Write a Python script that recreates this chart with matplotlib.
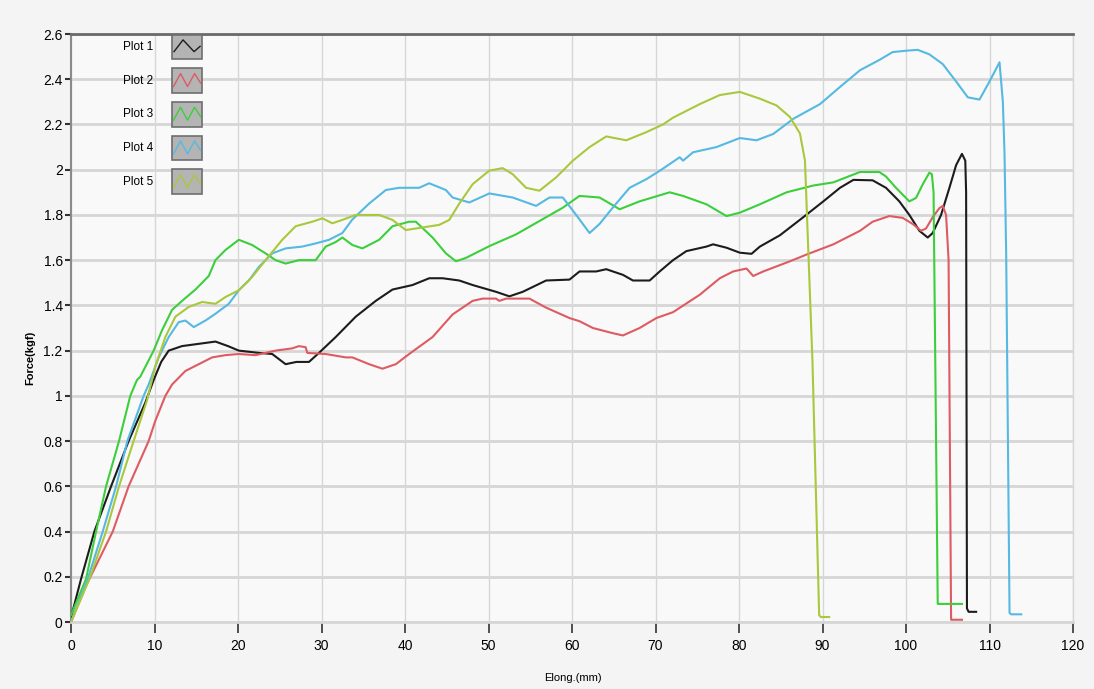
import matplotlib
matplotlib.use("Agg")
import matplotlib.pyplot as plt
from matplotlib.patches import Rectangle
from matplotlib.ticker import MultipleLocator, FuncFormatter

plt.rcParams['font.family'] = ['Liberation Sans Narrow', 'Liberation Sans', 'DejaVu Sans']

# Plot 1 (black)
x1 = [0, 1.2, 2.8, 4.8, 6.9, 8.9, 9.9, 10.8, 11.7, 13.3, 15.3, 17.3, 18.8, 20.1, 22.5, 24.1, 25.7,
      27.0, 28.5, 29.7, 31.7, 34.1, 36.5, 38.5, 40.9, 42.9, 44.5, 46.5, 48.1, 50.9, 52.5, 54.1, 56.9,
      59.7, 60.9, 62.9, 64.1, 66.1, 67.3, 69.3, 70.5, 72.1, 73.7, 76.1, 76.9, 78.5, 80.1, 81.5, 82.5,
      84.9, 87.7, 90.1, 92.1, 93.7, 96.0, 97.6, 99.2, 100.4, 101.6, 102.6, 103.2, 104.2, 105.2, 106.0,
      106.7, 107.1, 107.2, 107.3, 107.5, 108.4]
y1 = [0.02, 0.19, 0.40, 0.60, 0.80, 0.97, 1.07, 1.15, 1.20, 1.22, 1.23, 1.24, 1.22, 1.20, 1.19, 1.185, 1.14,
      1.15, 1.15, 1.19, 1.26, 1.35, 1.42, 1.47, 1.49, 1.52, 1.52, 1.51, 1.49, 1.46, 1.44, 1.46, 1.51,
      1.514, 1.55, 1.55, 1.56, 1.535, 1.51, 1.51, 1.55, 1.60, 1.64, 1.66, 1.67, 1.655, 1.633, 1.628, 1.66,
      1.71, 1.79, 1.86, 1.92, 1.955, 1.953, 1.92, 1.86, 1.80, 1.73, 1.70, 1.72, 1.80, 1.92, 2.02,
      2.07, 2.04, 1.90, 0.06, 0.045, 0.045]

# Plot 2 (red)
x2 = [0, 1.8, 5.0, 6.9, 9.3, 10.1, 11.3, 12.1, 13.7, 15.3, 16.9, 18.5, 20.1, 22.1, 23.3, 24.5, 26.5,
      27.3, 28.1, 28.3, 30.5, 32.9, 33.7, 35.7, 37.3, 38.9, 40.5, 43.3, 45.7, 48.1, 49.3, 50.9, 51.3,
      52.1, 54.9, 56.9, 59.7, 60.9, 62.5, 64.9, 66.1, 68.1, 70.1, 72.1, 75.3, 77.7, 79.3, 80.9, 81.7,
      82.9, 86.1, 88.1, 91.3, 94.5, 96.0, 98.0, 99.6, 100.8, 101.8, 102.4, 103.2, 104.0, 104.4, 104.8,
      105.1, 105.4, 105.6, 106.7]
y2 = [0.0, 0.16, 0.40, 0.60, 0.80, 0.89, 1.00, 1.05, 1.11, 1.14, 1.17, 1.18, 1.185, 1.18, 1.19, 1.20, 1.21,
      1.22, 1.215, 1.19, 1.185, 1.17, 1.17, 1.14, 1.12, 1.14, 1.185, 1.26, 1.36, 1.42, 1.43, 1.43, 1.42,
      1.43, 1.43, 1.39, 1.344, 1.33, 1.30, 1.277, 1.267, 1.30, 1.344, 1.37, 1.447, 1.52, 1.55, 1.563, 1.53,
      1.55, 1.595, 1.625, 1.67, 1.73, 1.77, 1.795, 1.787, 1.76, 1.73, 1.74, 1.79, 1.83, 1.84, 1.80,
      1.60, 0.01, 0.01, 0.01]

# Plot 3 (green)
x3 = [0, 1.8, 3.0, 4.2, 5.75, 7.1, 7.9, 8.3, 9.9, 10.9, 12.1, 13.3, 14.9, 16.5, 17.3, 18.5, 20.1,
      21.7, 23.3, 24.5, 25.7, 27.3, 29.3, 30.5, 31.7, 32.5, 33.7, 34.9, 36.9, 38.5, 40.5, 41.3, 43.3,
      44.9, 46.1, 47.3, 50.1, 53.3, 56.1, 58.9, 60.9, 63.3, 64.1, 65.7, 68.1, 71.7, 73.3, 76.1, 78.5,
      80.1, 82.5, 85.7, 88.9, 91.3, 94.5, 96.8, 97.6, 98.8, 100.4, 101.2, 102.0, 102.8, 103.1, 103.3,
      103.8, 104.0, 106.7]
y3 = [0.03, 0.19, 0.40, 0.60, 0.80, 1.00, 1.07, 1.085, 1.20, 1.29, 1.38, 1.42, 1.47, 1.53, 1.60, 1.645, 1.69,
      1.667, 1.63, 1.60, 1.585, 1.60, 1.60, 1.66, 1.68, 1.70, 1.667, 1.652, 1.69, 1.75, 1.77, 1.77, 1.70,
      1.63, 1.595, 1.61, 1.662, 1.714, 1.773, 1.832, 1.884, 1.877, 1.86, 1.825, 1.86, 1.90, 1.884, 1.847, 1.795,
      1.81, 1.847, 1.90, 1.93, 1.944, 1.99, 1.99, 1.97, 1.92, 1.86, 1.875, 1.935, 1.987, 1.98, 1.90,
      0.08, 0.08, 0.08]

# Plot 4 (blue)
x4 = [0, 2.0, 3.8, 5.4, 6.75, 8.7, 9.3, 10.5, 11.7, 12.9, 13.7, 14.7, 16.1, 17.3, 18.9, 20.1, 21.3,
      22.5, 24.1, 25.7, 27.7, 29.3, 30.9, 32.5, 33.7, 35.7, 37.7, 39.3, 41.7, 42.9, 44.9, 45.7, 47.7,
      50.1, 52.9, 55.7, 57.3, 58.9, 60.5, 62.1, 63.3, 64.9, 66.9, 68.9, 70.5, 72.9, 73.3, 74.5, 77.3,
      80.1, 82.1, 84.1, 86.5, 89.7, 92.1, 94.5, 96.8, 98.4, 100.0, 101.4, 102.8, 104.4, 106.0, 107.4,
      108.8, 110.0, 111.2, 111.6, 111.8, 112.0, 112.4, 112.6, 113.8]
y4 = [0.0, 0.19, 0.40, 0.60, 0.80, 1.00, 1.05, 1.17, 1.26, 1.326, 1.333, 1.304, 1.333, 1.363, 1.407, 1.467, 1.51,
      1.57, 1.63, 1.652, 1.66, 1.674, 1.69, 1.72, 1.78, 1.85, 1.91, 1.92, 1.92, 1.94, 1.91, 1.877, 1.855,
      1.895, 1.877, 1.84, 1.877, 1.877, 1.80, 1.72, 1.76, 1.833, 1.92, 1.958, 1.995, 2.055, 2.04, 2.077, 2.10,
      2.14, 2.13, 2.158, 2.225, 2.29, 2.366, 2.44, 2.485, 2.52, 2.526, 2.53, 2.51, 2.467, 2.39, 2.32,
      2.31, 2.39, 2.475, 2.30, 2.07, 1.62, 0.04, 0.034, 0.034]

# Plot 5 (yellow green)
x5 = [0, 2.2, 4.2, 5.75, 7.5, 9.1, 9.7, 10.1, 11.3, 12.5, 14.1, 15.7, 17.3, 18.5, 20.1, 21.7, 23.3,
      25.3, 26.9, 28.9, 30.1, 31.3, 32.5, 34.1, 36.9, 38.5, 40.1, 41.3, 44.1, 45.3, 46.5, 48.1, 50.1,
      51.7, 52.9, 54.5, 56.1, 58.1, 60.1, 62.1, 64.1, 66.5, 68.9, 70.9, 72.1, 75.3, 77.7, 80.1, 82.5,
      84.5, 86.1, 87.3, 87.9, 88.2, 88.8, 89.6, 89.8, 90.8]
y5 = [0.0, 0.19, 0.40, 0.60, 0.80, 0.98, 1.07, 1.13, 1.26, 1.35, 1.393, 1.415, 1.407, 1.437, 1.467, 1.526, 1.60,
      1.69, 1.75, 1.77, 1.785, 1.763, 1.778, 1.80, 1.80, 1.778, 1.733, 1.74, 1.756, 1.778, 1.85, 1.936, 1.996,
      2.007, 1.98, 1.92, 1.907, 1.966, 2.04, 2.10, 2.147, 2.13, 2.166, 2.20, 2.23, 2.29, 2.33, 2.344, 2.314,
      2.284, 2.233, 2.16, 2.04, 1.74, 1.15, 0.03, 0.022, 0.022]

labels = ['Plot 1', 'Plot 2', 'Plot 3', 'Plot 4', 'Plot 5']
colors = ['#1c1c1c', '#de5b62', '#3ccf3c', '#55b9e2', '#a9c83c']
series = [(x1, y1), (x2, y2), (x3, y3), (x4, y4), (x5, y5)]

fig = plt.figure(figsize=(10.94, 6.89), dpi=100, facecolor='#f4f4f4')
ax = fig.add_axes([71/1094, 1 - 622/689, 1002/1094, 588/689])
ax.set_facecolor('#f9f9f9')

for (xs, ys), c in zip(series, colors):
    ax.plot(xs, ys, color=c, lw=1.5, zorder=3)

ax.set_xlim(0, 120)
ax.set_ylim(0, 2.6)
ax.xaxis.set_major_locator(MultipleLocator(10))
ax.yaxis.set_major_locator(MultipleLocator(0.2))
ax.yaxis.set_major_formatter(FuncFormatter(lambda v, p: ('%.1f' % v).rstrip('0').rstrip('.')))

ax.grid(axis='y', color='#d6d6d6', lw=2.0, zorder=0)
ax.grid(axis='x', color='#d6d6d6', lw=1.0, zorder=0)
ax.set_axisbelow(True)

ax.spines['top'].set_color('#6a6a6a')
ax.spines['top'].set_linewidth(2)
ax.spines['left'].set_color('#8a8a8a')
ax.spines['left'].set_linewidth(1.5)
ax.spines['bottom'].set_color('#d6d6d6')
ax.spines['bottom'].set_linewidth(2)
ax.spines['right'].set_color('#d6d6d6')
ax.spines['right'].set_linewidth(1)

ax.tick_params(axis='x', direction='out', length=8, width=1.2, color='#333333',
               labelsize=10, pad=4)
ax.tick_params(axis='y', direction='out', length=4, width=1.5, color='#333333',
               labelsize=10, pad=2)

ax.set_xlabel('Elong.(mm)', fontsize=8)
ax.set_ylabel('Force(kgf)', fontsize=8, fontweight='bold')
ax.xaxis.set_label_coords(0.501, -0.087)
ax.yaxis.set_label_coords(-0.036, 0.45)

# legend drawn like the original: label text plus grey swatch box
for i, (lab, c) in enumerate(zip(labels, colors)):
    yc = 0.978 - i * 0.0573
    ax.text(0.0818, yc, lab, transform=ax.transAxes, ha='right', va='center', fontsize=8.5)
    ax.add_patch(Rectangle((0.1008, yc - 0.021), 0.0299, 0.042, transform=ax.transAxes,
                           facecolor='#b4b4b4', edgecolor='#6e6e6e', lw=1.2, zorder=5,
                           clip_on=False))
    if i == 0:
        zx = [0.1028, 0.1118, 0.1228, 0.1268, 0.1288]
        zy = [yc - 0.008, yc + 0.012, yc - 0.008, yc - 0.002, yc + 0.001]
    else:
        zx = [0.1023, 0.1093, 0.1163, 0.1233, 0.1293]
        zy = [yc - 0.010, yc + 0.012, yc - 0.010, yc + 0.012, yc - 0.004]
    ax.plot(zx, zy, color=c, lw=1.0, transform=ax.transAxes, zorder=6, clip_on=False)

fig.savefig('out.png', dpi=100, facecolor=fig.get_facecolor())
